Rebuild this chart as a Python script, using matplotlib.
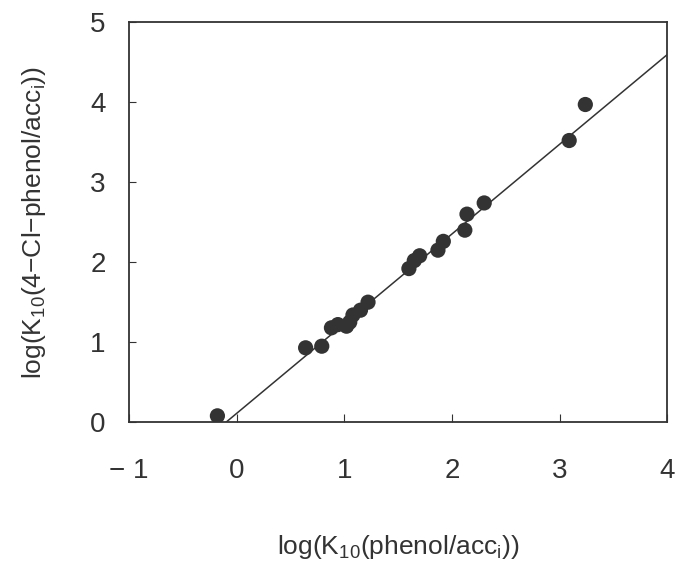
import matplotlib
matplotlib.use("Agg")
import matplotlib.pyplot as plt
import numpy as np

# values
phenol = [-0.18, 0.64, 0.79, 0.88, 0.94, 1.02, 1.05, 1.08, 1.15, 1.22,
          1.60, 1.65, 1.70, 1.87, 1.92, 2.12, 2.14, 2.30, 3.09, 3.24]
cl_phenol = [0.08, 0.93, 0.95, 1.18, 1.22, 1.20, 1.25, 1.34, 1.40, 1.50,
             1.92, 2.02, 2.08, 2.15, 2.26, 2.40, 2.60, 2.74, 3.52, 3.97]

# fitted line
slope = 1.12
intercept = 0.112
line_x = [-0.1, 4.0]

x_ticks = [-1, 0, 1, 2, 3, 4]
y_ticks = [0, 1, 2, 3, 4, 5]

plt.rcParams['font.family'] = ['Liberation Sans', 'DejaVu Sans']
plt.rcParams['mathtext.fontset'] = 'custom'
plt.rcParams['mathtext.rm'] = 'Liberation Sans'
ink = '#333333'

fig = plt.figure(figsize=(6.8, 5.66), dpi=100)
ax = fig.add_axes([0.19, 0.254, 0.791, 0.707])

ax.plot(line_x, [slope * v + intercept for v in line_x], color=ink, lw=1.1)
ax.scatter(phenol, cl_phenol, s=120, color=ink, zorder=3, edgecolors='none')

ax.set_xlim(-1, 4)
ax.set_ylim(0, 5)
ax.set_xticks(x_ticks)
ax.set_yticks(y_ticks)
ax.set_xticklabels(['\u2212 1' if t < 0 else str(t) for t in x_ticks])
ax.tick_params(axis='x', direction='in', length=6, pad=26, labelsize=20, colors=ink)
ax.tick_params(axis='y', direction='in', length=5, pad=17, labelsize=20, colors=ink)
for sp in ax.spines.values():
    sp.set_color(ink)
    sp.set_linewidth(1.3)

ax.set_xlabel(r'log(K$_{\mathrm{10}}$(phenol/acc$_{\mathrm{i}}$))', fontsize=19, color=ink, labelpad=35)
ax.set_ylabel(r'log(K$_{\mathrm{10}}$(4$-$Cl$-$phenol/acc$_{\mathrm{i}}$))', fontsize=19, color=ink, labelpad=30)

fig.savefig('out.png', dpi=100)
